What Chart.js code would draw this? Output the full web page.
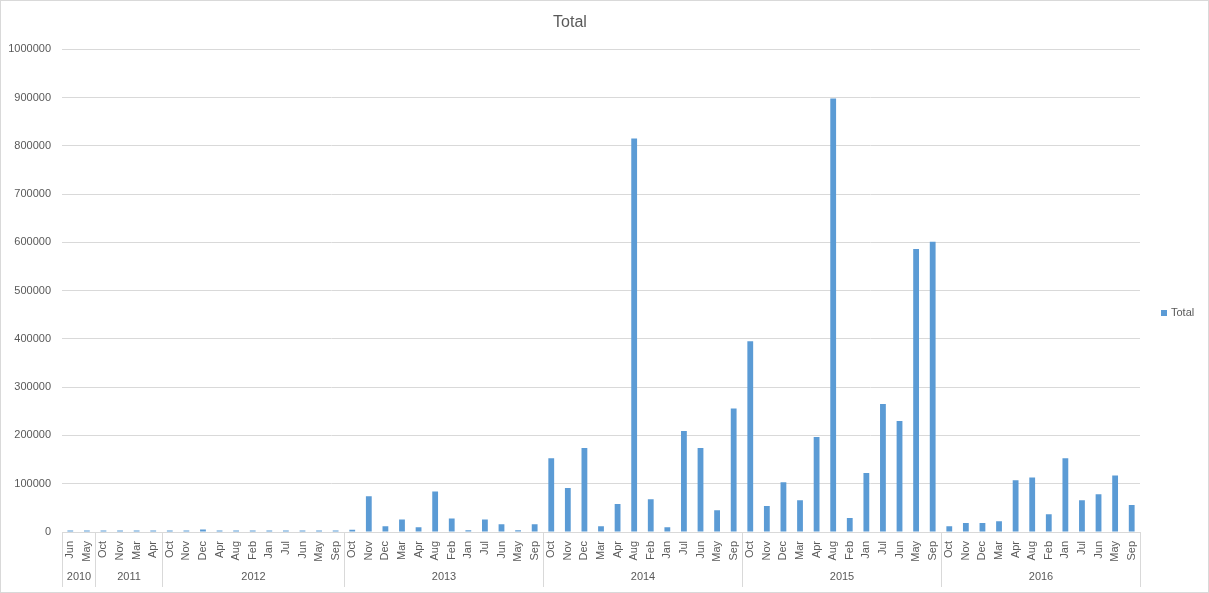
<!DOCTYPE html>
<html>
<head>
<meta charset="utf-8">
<title>Total</title>
<script src="https://cdn.jsdelivr.net/npm/chart.js@4/dist/chart.umd.min.js"></script>
<style>
  body { margin: 0; background: #ffffff; }
  canvas { display: block; }
</style>
</head>
<body>
<canvas id="totalChart" width="1209" height="593"></canvas>
<script>
  var months = [
    'Jun','May',
    'Oct','Nov','Mar','Apr',
    'Oct','Nov','Dec','Apr','Aug','Feb','Jan','Jul','Jun','May','Sep',
    'Oct','Nov','Dec','Mar','Apr','Aug','Feb','Jan','Jul','Jun','May','Sep',
    'Oct','Nov','Dec','Mar','Apr','Aug','Feb','Jan','Jul','Jun','May','Sep',
    'Oct','Nov','Dec','Mar','Apr','Aug','Feb','Jan','Jul','Jun','May','Sep',
    'Oct','Nov','Dec','Mar','Apr','Aug','Feb','Jan','Jul','Jun','May','Sep'
  ];
  var yearLabels = ['2010','2011','2012','2013','2014','2015','2016'];
  var yearSizes = [2, 4, 11, 12, 12, 12, 12];
  var totals = [
    3000, 3000,
    3000, 3000, 3000, 3000,
    3000, 3000, 5000, 3000, 3000, 3000, 3000, 3000, 3000, 3000, 3000,
    4500, 74000, 12000, 26000, 10000, 84000, 28000, 3500, 26000, 16000, 3500, 16000,
    153000, 91000, 174000, 12000, 58000, 815000, 68000, 10000, 209000, 174000, 45000, 256000,
    395000, 54000, 103000, 66000, 197000, 898000, 29000, 122000, 265000, 230000, 586000, 601000,
    12000, 18500, 18500, 22500, 107000, 113000, 37000, 153000, 66000, 78000, 117000, 56000
  ];

  var textColor = '#595959';
  var gridColor = '#d9d9d9';
  var barColor = '#5b9bd5';
  var fontFamily = '"Liberation Sans", Arial, sans-serif';

  // second row of the category axis: years with separators, plus legend and frame
  var excelBits = {
    id: 'excelBits',
    afterDraw: function(chart) {
      var ctx = chart.ctx;
      var x = chart.scales.x;
      var area = chart.chartArea;
      var lineBottom = 587;
      ctx.save();
      ctx.strokeStyle = gridColor;
      ctx.lineWidth = 1;
      ctx.fillStyle = textColor;
      ctx.font = '11px ' + fontFamily;
      ctx.textAlign = 'center';
      ctx.textBaseline = 'middle';

      var start = 0;
      for (var i = 0; i < yearLabels.length; i++) {
        var end = start + yearSizes[i] - 1;
        var left = start === 0 ? area.left : (x.getPixelForValue(start - 1) + x.getPixelForValue(start)) / 2;
        var right = end === months.length - 1 ? area.right : (x.getPixelForValue(end) + x.getPixelForValue(end + 1)) / 2;
        left = Math.round(left) + 0.5;
        right = Math.round(right) + 0.5;
        ctx.beginPath();
        ctx.moveTo(left, area.bottom);
        ctx.lineTo(left, lineBottom);
        ctx.moveTo(right, area.bottom);
        ctx.lineTo(right, lineBottom);
        ctx.stroke();
        ctx.fillText(yearLabels[i], (left + right) / 2, 577);
        start = end + 1;
      }

      // legend
      ctx.fillStyle = barColor;
      ctx.fillRect(1161, 310, 6, 6);
      ctx.fillStyle = textColor;
      ctx.textAlign = 'left';
      ctx.fillText('Total', 1171, 313);

      // outer frame
      ctx.strokeStyle = gridColor;
      ctx.strokeRect(0.5, 0.5, chart.width - 1, chart.height - 1);
      ctx.restore();
    }
  };

  var ctx = document.getElementById('totalChart').getContext('2d');

  var options = {
    responsive: false,
    maintainAspectRatio: false,
    animation: false,
    layout: {
      padding: { left: 0, right: 69, top: 0, bottom: 0 }
    },
    plugins: {
      legend: { display: false },
      tooltip: { enabled: false },
      title: {
        display: true,
        text: 'Total',
        color: textColor,
        font: { family: fontFamily, size: 16, weight: 'normal' },
        padding: { top: 13, bottom: 17 }
      }
    },
    scales: {
      x: {
        grid: { display: false },
        border: { display: true, color: gridColor },
        ticks: {
          color: textColor,
          font: { family: fontFamily, size: 11 },
          autoSkip: false,
          minRotation: 90,
          maxRotation: 90,
          padding: 1
        },
        afterFit: function(scale) { scale.height = 61; }
      },
      y: {
        min: 0,
        max: 1000000,
        grid: { color: gridColor, drawTicks: false },
        border: { display: false },
        ticks: {
          stepSize: 100000,
          color: textColor,
          font: { family: fontFamily, size: 11 },
          padding: 11,
          callback: function(v) { return String(v); }
        },
        afterFit: function(scale) { scale.width = 62; }
      }
    }
  };

  var totalChart = new Chart(ctx, {
    type: 'bar',
    data: {
      labels: months,
      datasets: [{
        label: 'Total',
        data: totals,
        backgroundColor: barColor,
        barPercentage: 0.35,
        categoryPercentage: 1
      }]
    },
    options: options,
    plugins: [excelBits]
  });
</script>
</body>
</html>
